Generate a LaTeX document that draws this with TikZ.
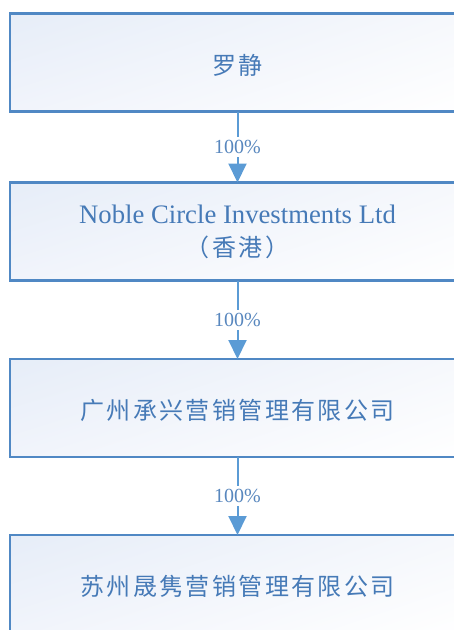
\documentclass[tikz,border=0pt]{standalone}
\usepackage{fontspec}
\setmainfont{Liberation Serif}
\newfontfamily\cjk[LetterSpace=10]{Noto Sans CJK SC}
\usetikzlibrary{arrows.meta,positioning,shadings}
\definecolor{boxblue}{RGB}{80,136,196}
\definecolor{arrowblue}{RGB}{91,155,213}
\definecolor{textblue}{RGB}{70,122,183}
\definecolor{shadeul}{RGB}{230,237,248}
\definecolor{shadeur}{RGB}{246,248,252}
\definecolor{shadell}{RGB}{241,244,251}

\begin{document}
\begin{tikzpicture}[
    x=1pt, y=-1pt,
    box/.style={rectangle, draw=boxblue, line width=2.2pt, minimum width=455pt, minimum height=98pt,
        inner sep=0pt, outer sep=0pt, align=center, text=textblue,
        upper left=shadeul, upper right=shadeur, lower left=shadell, lower right=white},
    cjkbox/.style={box, font=\cjk\fontsize{24}{28}\selectfont, text height=25pt, text depth=2pt},
    arrow/.style={-{Triangle[width=18pt,length=19pt]}, line width=2pt, draw=arrowblue},
    pct/.style={fill=white, text=textblue!90, inner sep=3pt, font=\fontsize{20}{24}\selectfont}
]
    \useasboundingbox (0,0) rectangle (454,630);

    % Top: shareholder
    \node[cjkbox] (luojing) at (237.5,62.5) {罗静};

    % Hong Kong holding
    \node[box, below=71pt of luojing, font=\fontsize{26.7}{33}\selectfont] (noble)
        {Noble Circle Investments Ltd\\{\cjk\fontsize{24}{33}\selectfont （香港）}};

    % Guangzhou company
    \node[cjkbox, below=78.5pt of noble] (chengxing) {广州承兴营销管理有限公司};

    % Suzhou company
    \node[cjkbox, below=78pt of chengxing] (shengjun) {苏州晟隽营销管理有限公司};

    % Arrows
    \draw[arrow] (luojing) -- node[pct] {100\%} (noble);
    \draw[arrow] (noble) -- node[pct] {100\%} (chengxing);
    \draw[arrow] (chengxing) -- node[pct] {100\%} (shengjun);
\end{tikzpicture}
\end{document}
